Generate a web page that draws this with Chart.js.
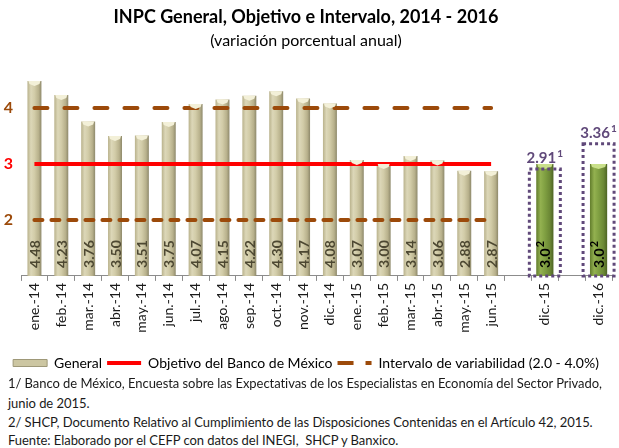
<!DOCTYPE html>
<html><head><meta charset="utf-8">
<script src="https://cdn.jsdelivr.net/npm/chart.js@4/dist/chart.umd.min.js"></script>
<style>
html,body{margin:0;padding:0;background:#fff;}
#wrap{position:relative;width:619px;height:448px;overflow:hidden;}
canvas{position:absolute;left:0;top:0;}
.note{position:absolute;left:8px;font-family:Lato,sans-serif;font-size:13px;letter-spacing:-0.05px;color:#1a1a1a;white-space:nowrap;line-height:14px;}
</style></head>
<body><div id="wrap"><canvas id="c" width="619" height="380"></canvas>
<div class="note" style="top:376px">1/ Banco de México, Encuesta sobre las Expectativas de los Especialistas en Economía del Sector Privado,</div>
<div class="note" style="top:396px">junio de 2015.</div>
<div class="note" style="top:415px">2/ SHCP, Documento Relativo al Cumplimiento de las Disposiciones Contenidas en el Artículo 42, 2015.</div>
<div class="note" style="top:433px">Fuente: Elaborado por el CEFP con datos del INEGI,&nbsp; SHCP y Banxico.</div>
</div>
<script>
const categories = ['ene.-14','feb.-14','mar.-14','abr.-14','may.-14','jun.-14','jul.-14','ago.-14','sep.-14','oct.-14','nov.-14','dic.-14','ene.-15','feb.-15','mar.-15','abr.-15','may.-15','jun.-15','','dic.-15','','dic.-16'];
const general = [4.48,4.23,3.76,3.50,3.51,3.75,4.07,4.15,4.22,4.30,4.17,4.08,3.07,3.00,3.14,3.06,2.88,2.87,null,null,null,null];
const objetivo = [3,3,3,3,3,3,3,3,3,3,3,3,3,3,3,3,3,3,null,null,null,null];
const intervaloSup = [4,4,4,4,4,4,4,4,4,4,4,4,4,4,4,4,4,4,null,null,null,null];
const intervaloInf = [2,2,2,2,2,2,2,2,2,2,2,2,2,2,2,2,2,2,null,null,null,null];
const estimacionSHCP = [null,null,null,null,null,null,null,null,null,null,null,null,null,null,null,null,null,null,null,3.0,null,3.0];
const expectativas = [null,null,null,null,null,null,null,null,null,null,null,null,null,null,null,null,null,null,null,2.91,null,3.36];
const yTicks = [2,3,4];
const yMin = 1, yMax = 4.6;

const BROWN = '#9C4A0A', RED = '#FF0000', PURPLE = '#60497A';
const tickColors = {2: BROWN, 3: RED, 4: BROWN};
const FONT = 'Lato, sans-serif';

function barGrad(ctx, stops, pct) {
  const chart = ctx.chart;
  const xs = chart.scales.x;
  if (!xs || xs.width === undefined || ctx.dataIndex === undefined) return stops[2][1];
  const cx = xs.getPixelForValue(ctx.dataIndex);
  const w = xs.width / categories.length * pct;
  if (!isFinite(cx)) return stops[2][1];
  const g = chart.ctx.createLinearGradient(cx - w / 2, 0, cx + w / 2, 0);
  stops.forEach(s => g.addColorStop(s[0], s[1]));
  return g;
}
const tanStops = [[0,'#B9B28C'],[0.25,'#DCD7B8'],[0.5,'#D2CCA8'],[0.8,'#B8B18C'],[1,'#8E896B']];
const greenStops = [[0,'#627D2C'],[0.25,'#93B150'],[0.5,'#80A042'],[0.8,'#6B8735'],[1,'#4D6424']];

const decorPlugin = {
  id: 'decor',
  afterDatasetsDraw(chart) {
    const ctx = chart.ctx, ys = chart.scales.y, xs = chart.scales.x;
    const base = ys.getPixelForValue(yMin);
    [[0, '#F3F0D8', general], [4, '#C9E08A', estimacionSHCP]].forEach(([di, col, arr]) => {
      chart.getDatasetMeta(di).data.forEach((el, i) => {
        if (arr[i] == null || !el || !isFinite(el.y)) return;
        const w = el.width;
        ctx.save();
        ctx.fillStyle = col;
        ctx.beginPath();
        ctx.moveTo(el.x - w / 2 + 1, el.y);
        ctx.lineTo(el.x + w / 2 - 1, el.y);
        ctx.lineTo(el.x + w / 2 - 2, el.y + 3);
        ctx.lineTo(el.x, el.y + 5);
        ctx.lineTo(el.x - w / 2 + 2, el.y + 3);
        ctx.closePath();
        ctx.fill();
        ctx.restore();
      });
    });
    chart.getDatasetMeta(0).data.forEach((el, i) => {
      const v = general[i];
      if (v == null) return;
      ctx.save();
      ctx.translate(el.x + 1, base - 8);
      ctx.rotate(-Math.PI / 2);
      ctx.font = 'bold 14px ' + FONT;
      ctx.fillStyle = '#4D4832';
      ctx.textAlign = 'left';
      ctx.textBaseline = 'middle';
      ctx.fillText(v.toFixed(2), 0, 0);
      ctx.restore();
    });
    chart.getDatasetMeta(4).data.forEach((el, i) => {
      const v = estimacionSHCP[i];
      if (v == null) return;
      ctx.save();
      ctx.translate(el.x + 1, base - 8);
      ctx.rotate(-Math.PI / 2);
      ctx.font = 'bold 14px ' + FONT;
      ctx.fillStyle = '#000';
      ctx.textAlign = 'left';
      ctx.textBaseline = 'middle';
      const t = v.toFixed(1);
      ctx.fillText(t, 0, 0);
      const tw = ctx.measureText(t).width;
      ctx.font = 'bold 11px ' + FONT;
      ctx.fillText('2', tw + 1, -5);
      ctx.restore();
    });
    expectativas.forEach((v, i) => {
      if (v == null) return;
      const cx = xs.getPixelForValue(i);
      const top = ys.getPixelForValue(v);
      ctx.save();
      ctx.strokeStyle = PURPLE;
      ctx.lineWidth = 3;
      ctx.setLineDash([3, 3]);
      ctx.strokeRect(cx - 15.5, top, 31, base - top);
      ctx.setLineDash([]);
      ctx.fillStyle = PURPLE;
      ctx.font = 'bold 15px ' + FONT;
      ctx.textBaseline = 'alphabetic';
      const t = v.toFixed(2);
      const tw = ctx.measureText(t).width;
      ctx.font = 'bold 10px ' + FONT;
      const sw = ctx.measureText('1').width;
      const x0 = cx - (tw + sw + 1) / 2;
      ctx.font = 'bold 15px ' + FONT;
      ctx.textAlign = 'left';
      ctx.fillText(t, x0, top - 6);
      ctx.font = 'bold 10px ' + FONT;
      ctx.fillText('1', x0 + tw + 1, top - 12);
      ctx.restore();
    });
  }
};

new Chart(document.getElementById('c'), {
  data: {
    labels: categories,
    datasets: [
      { type: 'bar', label: 'General', data: general, order: 3, grouped: false,
        backgroundColor: (c) => barGrad(c, tanStops, 0.52), barPercentage: 0.52, categoryPercentage: 1, borderWidth: 0 },
      { type: 'line', label: 'Objetivo del Banco de México', data: objetivo, order: 1,
        borderColor: RED, backgroundColor: RED, borderWidth: 4, pointRadius: 0, fill: false, spanGaps: false },
      { type: 'line', label: 'Intervalo de variabilidad (2.0 - 4.0%)', data: intervaloSup, order: 2,
        borderColor: BROWN, backgroundColor: BROWN, borderWidth: 4, borderDash: [13, 17], borderCapStyle: 'round', pointRadius: 0, fill: false },
      { type: 'line', label: 'Intervalo inferior', data: intervaloInf, order: 2,
        borderColor: BROWN, backgroundColor: BROWN, borderWidth: 4, borderDash: [8, 9], borderCapStyle: 'round', pointRadius: 0, fill: false },
      { type: 'bar', label: 'Estimación SHCP', data: estimacionSHCP, order: 3, grouped: false,
        backgroundColor: (c) => barGrad(c, greenStops, 0.64), barPercentage: 0.64, categoryPercentage: 1, borderWidth: 0 }
    ]
  },
  options: {
    responsive: false,
    animation: false,
    layout: { padding: { left: 0, right: 7, top: 0, bottom: 0 } },
    scales: {
      x: {
        type: 'category',
        offset: true,
        grid: { display: true, drawOnChartArea: false, offset: true, tickLength: 5, color: '#8C8C8C', lineWidth: 1 },
        border: { display: true, color: '#8C8C8C', width: 1 },
        ticks: { autoSkip: false, maxRotation: 90, minRotation: 90, padding: 2, color: '#1a1a1a', font: { family: FONT, size: 14 } },
        afterFit: (s) => { s.height = 75.1; }
      },
      y: {
        min: yMin, max: yMax,
        grid: { display: false, drawTicks: false },
        border: { display: false },
        afterBuildTicks: (s) => { s.ticks = yTicks.map(v => ({ value: v })); },
        ticks: { padding: 8, color: (c) => tickColors[c.tick.value] || '#000', font: { family: FONT, size: 16, weight: 'bold' } },
        afterFit: (s) => { s.width = 21; }
      }
    },
    plugins: {
      tooltip: { enabled: false },
      title: { display: true, text: 'INPC General, Objetivo e Intervalo, 2014 - 2016', color: '#000',
        font: { family: FONT, size: 18, weight: 'bold' }, padding: { top: 6, bottom: 3.8 } },
      subtitle: { display: true, text: '(variación porcentual anual)', color: '#000',
        font: { family: FONT, size: 16, weight: 'normal' }, padding: { top: 0, bottom: 23.8 } },
      legend: {
        position: 'bottom',
        labels: {
          usePointStyle: true, pointStyleWidth: 34, boxHeight: 7, padding: 5, color: '#000',
          font: { family: FONT, size: 14 },
          generateLabels: (chart) => {
            const ds = chart.data.datasets;
            return [
              { text: ds[0].label, fillStyle: '#CCC6A2', strokeStyle: '#9E9878', lineWidth: 1, pointStyle: 'rect', datasetIndex: 0, hidden: false },
              { text: ds[1].label, fillStyle: RED, strokeStyle: RED, lineWidth: 4, pointStyle: 'line', datasetIndex: 1, hidden: false },
              { text: ds[2].label, fillStyle: BROWN, strokeStyle: BROWN, lineWidth: 4, lineDash: [16, 12], pointStyle: 'line', datasetIndex: 2, hidden: false }
            ];
          }
        }
      }
    }
  },
  plugins: [decorPlugin]
});
</script>
</body></html>
